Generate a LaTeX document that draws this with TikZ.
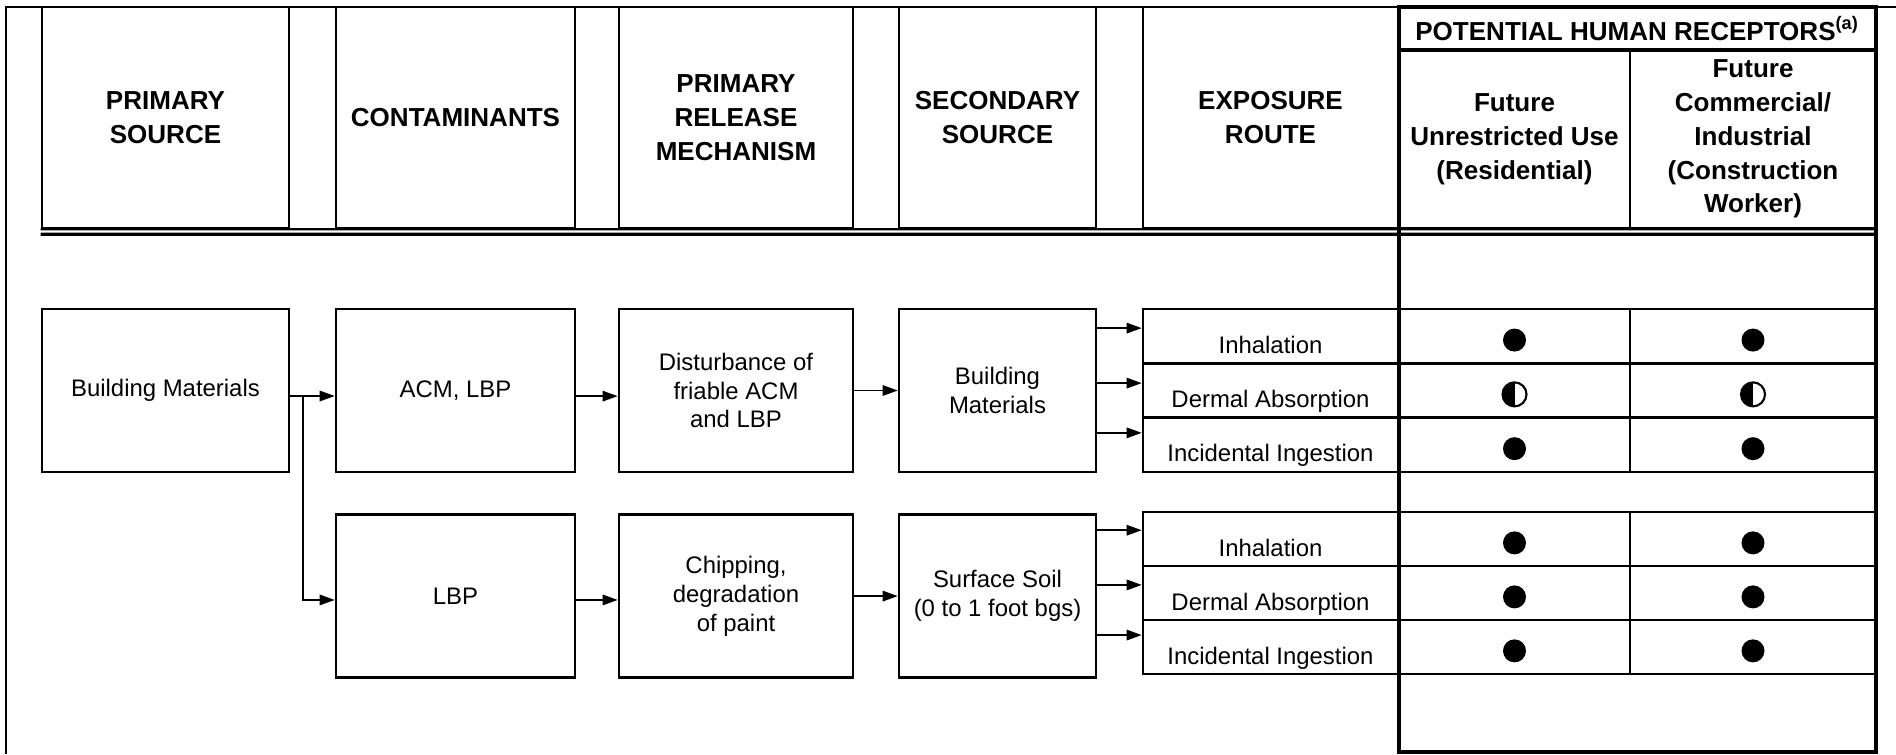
\documentclass[tikz,border=0pt]{standalone}
\usepackage{fontspec}
\setmainfont{Liberation Sans}
\usepackage{tikz}
\usetikzlibrary{arrows.meta, positioning}

\begin{document}
\begin{tikzpicture}[x=0.01cm, y=-0.01cm,
  cellbox/.style={draw, line width=0.7pt, inner sep=0pt, align=center},
  headbox/.style={cellbox, minimum height=2.21cm, font=\fontsize{7.4}{9.6}\selectfont\bfseries},
  bodybox/.style={cellbox, minimum height=1.63cm, font=\fontsize{6.8}{8.2}\selectfont},
  routecell/.style={cellbox, minimum width=2.55cm, minimum height=0.543cm, text height=9.7pt, text depth=0pt, font=\fontsize{6.8}{8.2}\selectfont},
  reccell/.style={cellbox, minimum height=0.543cm},
  fulldot/.style={circle, fill, inner sep=0pt, minimum size=0.23cm},
  halfdot/.style={circle, draw, line width=0.6pt, inner sep=0pt, minimum size=0.24cm,
    path picture={\fill (path picture bounding box.south west) rectangle (path picture bounding box.north);}},
  arr/.style={line width=0.45pt, -{Triangle[length=4.3pt, width=3pt]}}
]
  \useasboundingbox (0,0) rectangle (1896,754);

  % Outer frame
  \draw[line width=0.8pt] (6,754) -- (6,7) -- (1896,7);

  % Header columns
  \node[headbox, minimum width=2.47cm] (hsrc) at (165.5,117.5) {PRIMARY\\SOURCE};
  \node[headbox, minimum width=2.39cm] (hcont) at (455.5,117.5) {CONTAMINANTS};
  \node[headbox, minimum width=2.34cm] (hrel) at (736,117.5) {PRIMARY\\RELEASE\\MECHANISM};
  \node[headbox, minimum width=1.97cm] (hsec) at (997.5,117.5) {SECONDARY\\SOURCE};
  \node[headbox, minimum width=2.55cm] (hroute) at (1270.5,117.5) {EXPOSURE\\ROUTE};

  % Receptor header
  \node[headbox, minimum width=4.77cm, minimum height=0.43cm, line width=1pt] (hrec) at (1637.5,28.5) {POTENTIAL HUMAN RECEPTORS\textsuperscript{(a)}};
  \node[headbox, minimum width=2.31cm, minimum height=1.78cm] (hres) at (1514.5,139) {Future\\Unrestricted Use\\(Residential)};
  \node[headbox, minimum width=2.46cm, minimum height=1.78cm] (hcom) at (1753,139) {Future\\Commercial/\\Industrial\\(Construction\\Worker)};

  % Double line under the header
  \draw[line width=0.6pt] (hsrc.south west) -- (hcom.south east);
  \draw[line width=0.9pt] ([yshift=-1.4pt]hsrc.south west) -- ([yshift=-1.4pt]hcom.south east);

  % Source, contaminant and release boxes
  \node[bodybox, minimum width=2.47cm] (srcA) at (165.5,390.5) {Building Materials};
  \node[bodybox, minimum width=2.39cm] (acm) at (455.5,390.5) {ACM, LBP};
  \node[bodybox, minimum width=2.34cm] (dist) at (736,390.5) {Disturbance of\\friable ACM\\and LBP};
  \node[bodybox, minimum width=1.97cm] (bm) at (997.5,390.5) {Building\\Materials};
  \node[bodybox, minimum width=2.39cm, below=0.4cm of acm] (lbp) {LBP};
  \node[bodybox, minimum width=2.34cm, below=0.4cm of dist] (chip) {Chipping,\\degradation\\of paint};
  \node[bodybox, minimum width=1.97cm, below=0.4cm of bm] (soil) {Surface Soil\\(0 to 1 foot bgs)};

  % Arrows between the boxes
  \coordinate (fork) at (303,396);
  \draw[arr] (srcA.east |- fork) -- (acm.west |- fork);
  \draw[arr] (fork) |- ([yshift=-1.1pt]lbp.west);
  \draw[arr] ([yshift=-1.6pt]acm.east) -- ([yshift=-1.6pt]dist.west);
  \draw[arr] ([yshift=-1.1pt]lbp.east) -- ([yshift=-1.1pt]chip.west);
  \draw[arr] (dist) -- (bm);
  \draw[arr] (chip) -- (soil);

  % Exposure routes and receptor cells
  \foreach \r/\yc/\src/\ash/\resmark/\commark/\txt in {
    inhA/336.2/bm/2.3/fulldot/fulldot/Inhalation,
    derA/390.5/bm/2.1/halfdot/halfdot/Dermal Absorption,
    ingA/444.8/bm/3.4/fulldot/fulldot/Incidental Ingestion,
    inhB/539/soil/2.5/fulldot/fulldot/Inhalation,
    derB/593/soil/2.3/fulldot/fulldot/Dermal Absorption,
    ingB/647/soil/3.4/fulldot/fulldot/Incidental Ingestion} {
    \node[routecell] (\r) at (1270.5,\yc) {\txt};
    \node[reccell, minimum width=2.31cm] (\r-res) at (1514.5,\yc) {};
    \node[reccell, minimum width=2.46cm] (\r-com) at (1753,\yc) {};
    \node[\resmark] (\r-resdot) at ([yshift=-1.1pt]\r-res.center) {};
    \node[\commark] (\r-comdot) at ([yshift=-1.1pt]\r-com.center) {};
    \coordinate (\r-in) at ([yshift=\ash pt]\r.west);
    \draw[arr] (\src.east |- \r-in) -- (\r-in);
  }

  % Receptor frame
  \draw[line width=1.15pt] (1399,7) rectangle (1876,752);
\end{tikzpicture}
\end{document}
